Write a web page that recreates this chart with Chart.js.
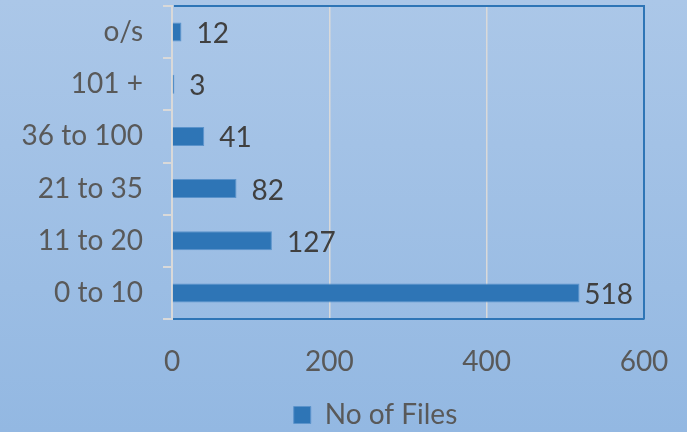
<!DOCTYPE html>
<html>
<head>
<meta charset="utf-8">
<script src="https://cdn.jsdelivr.net/npm/chart.js@4"></script>
<style>
    html, body { margin: 0; padding: 0; background: #fff; }
    .wrap {
        width: 687px; height: 432px;
        background: linear-gradient(to bottom, #abc7e8, #93b8e2);
    }
    canvas { display: block; }
</style>
</head>
<body>
<div class="wrap"><canvas id="chart" width="687" height="432"></canvas></div>
<script>
/* No of Files by bucket — horizontal bar */

const CATEGORIES = ['o/s', '101 +', '36 to 100', '21 to 35', '11 to 20', '0 to 10'];
const FILE_COUNTS = [12, 3, 41, 82, 127, 518];
const X_TICKS = [0, 200, 400, 600];
const SERIES_NAME = 'No of Files';

const BAR_BLUE = '#2e75b6';
const FONT = 'Lato';
const FONT_SIZE = 28;

// value labels at the end of each bar
const valueLabels = {
    id: 'valueLabels',
    afterDatasetsDraw(chart) {
        const ctx = chart.ctx;
        const meta = chart.getDatasetMeta(0);
        const right = chart.chartArea.right;
        ctx.save();
        ctx.font = `${FONT_SIZE}px ${FONT}`;
        ctx.fillStyle = '#404040';
        ctx.textAlign = 'left';
        ctx.textBaseline = 'middle';
        meta.data.forEach((bar, i) => {
            const txt = String(FILE_COUNTS[i]);
            const w = ctx.measureText(txt).width;
            const x = Math.min(bar.x + 15, right - 11 - w);
            ctx.fillText(txt, x, bar.y + 2);
        });
        ctx.restore();
    }
};

// blue frame on top and right of plot area
const plotFrame = {
    id: 'plotFrame',
    afterDraw(chart) {
        const { left, top, right, bottom } = chart.chartArea;
        const ctx = chart.ctx;
        ctx.save();
        ctx.strokeStyle = BAR_BLUE;
        ctx.lineWidth = 2;
        ctx.beginPath();
        ctx.moveTo(left + 2, top);
        ctx.lineTo(right, top);
        ctx.lineTo(right, bottom);
        ctx.stroke();
        ctx.restore();
    }
};

// legend sits a bit right of and below the default spot
const legendShift = {
    id: 'legendShift',
    afterLayout(chart) {
        const lg = chart.legend;
        lg.left += 32; lg.right += 32;
        lg.top += 9; lg.bottom += 9;
    }
};

new Chart(document.getElementById('chart').getContext('2d'), {
    type: 'bar',
    data: {
        labels: CATEGORIES,
        datasets: [{
            label: SERIES_NAME,
            data: FILE_COUNTS,
            backgroundColor: BAR_BLUE,
            borderColor: '#5b93cb',
            borderWidth: 1,
            categoryPercentage: 1,
            barPercentage: 0.365,
        }],
    },
    options: {
        indexAxis: 'y',
        responsive: false,
        animation: false,
        devicePixelRatio: 1,
        layout: { padding: { left: 0, right: 0, top: 6, bottom: 2 } },
        plugins: {
            tooltip: { enabled: false },
            legend: {
                position: 'bottom',
                labels: {
                    color: '#595959',
                    font: { family: FONT, size: FONT_SIZE },
                    boxWidth: 17,
                    boxHeight: 17,
                    padding: 6,
                },
            },
        },
        scales: {
            x: {
                min: 0,
                max: 600,
                afterBuildTicks: s => { s.ticks = X_TICKS.map(v => ({ value: v })); },
                afterFit: s => { s.height = 67; s.paddingRight = 43; s.paddingLeft = 0; },
                ticks: { color: '#595959', font: { family: FONT, size: FONT_SIZE }, padding: 26 },
                grid: {
                    color: ctx => ctx.tick && ctx.tick.value === 600 ? 'rgba(0,0,0,0)' : '#d9d9d9',
                    lineWidth: 1.5,
                    drawTicks: false,
                },
                border: { color: BAR_BLUE, width: 2 },
            },
            y: {
                afterFit: s => { s.width = 172; s.paddingTop = 0; s.paddingBottom = 0; },
                ticks: { color: '#595959', font: { family: FONT, size: FONT_SIZE }, padding: 20 },
                grid: {
                    offset: true,
                    drawOnChartArea: false,
                    color: '#d9d9d9',
                    lineWidth: 2,
                    tickLength: 9,
                },
                border: { color: '#d9d9d9', width: 2 },
            },
        },
    },
    plugins: [valueLabels, plotFrame, legendShift],
});
</script>
</body>
</html>
